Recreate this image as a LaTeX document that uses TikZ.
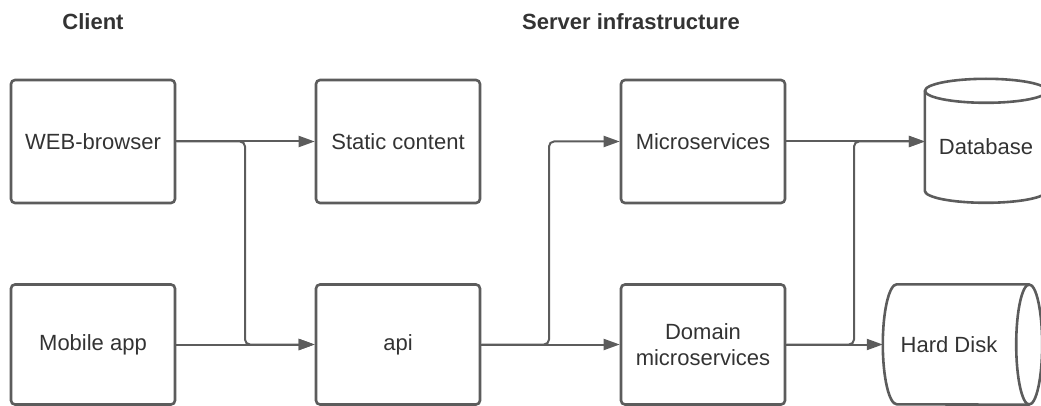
\documentclass[tikz,border=0pt]{standalone}
\usepackage{fontspec}
\setmainfont{Liberation Sans}
\usetikzlibrary{arrows.meta}
\definecolor{linegray}{RGB}{92,92,92}
\definecolor{textgray}{RGB}{51,51,51}

\begin{document}
\begin{tikzpicture}[x=1pt,y=1pt,>={Triangle[length=16pt,width=11pt]},
				font=\fontsize{22}{26}\selectfont,text=textgray,
				main node/.style={rectangle,rounded corners=4pt,draw=linegray,line width=2.6pt,
					minimum width=164pt,minimum height=123pt,align=center,inner sep=0pt},
				store node/.style={rectangle,inner sep=0pt},
				store line/.style={draw=linegray,line width=2.6pt},
				title/.style={font=\fontsize{22}{26}\selectfont\bfseries},
				link/.style={->,draw=linegray,line width=2pt,rounded corners=5pt}]
				
				\useasboundingbox (0,0) rectangle (1041,405);
				
				\node[title] (client) at (93,383) {Client};
				\node[title] (server) at (631,383) {Server infrastructure};
				
				\node[main node] (web) at (93,263.5) {WEB-browser};
				\node[main node,minimum height=120pt] (mobile) at (93,60.5) {Mobile app};
				\node[main node] (static) at (398,263.5) {Static content};
				\node[main node,minimum height=120pt] (api) at (398,60.5) {api};
				\node[main node] (micro) at (703,263.5) {Microservices};
				\node[main node,minimum height=120pt] (domain) at (703,60.5) {Domain\\microservices};
				
				% database, upright cylinder
				\node[store node,minimum width=122pt,minimum height=112pt] (db) at (986,258) {Database};
				\draw[store line] (db.north) ellipse [x radius=61, y radius=12];
				\draw[store line] (db.north west) -- ++(0,-100)
					arc [start angle=180, end angle=360, x radius=61, y radius=12] -- (db.north east);
				
				% hard disk, lying cylinder
				\node[store node,minimum width=132pt,minimum height=120pt] (disk) at (949,60.5) {Hard Disk};
				\draw[store line] ([xshift=14pt]disk.east) ellipse [x radius=13, y radius=60];
				\draw[store line] ([xshift=14pt]disk.north east) -- ([xshift=14pt]disk.north west)
					arc [start angle=90, end angle=270, x radius=14, y radius=60] -- ([xshift=14pt]disk.south east);
				
				% junction points
				\coordinate (j1) at (245,0);
				\coordinate (j2) at (549,0);
				\coordinate (j3) at (854,0);
				
				\draw[link] (web.east) -- (static.west);
				\draw[link] (web.east) -- (web.east -| j1) -- (j1 |- api.west) -- (api.west);
				\draw[link] (mobile.east) -- (api.west);
				\draw[link] (api.east) -- (domain.west);
				\draw[link] (api.east) -- (api.east -| j2) -- (j2 |- micro.west) -- (micro.west);
				\draw[link] (micro.east) -- (micro.east -| db.west);
				\draw[link] (domain.east) -- (disk.west);
				\draw[link] (domain.east) -- (domain.east -| j3) -- (j3 |- micro.east) -- (micro.east -| db.west);
\end{tikzpicture}
\end{document}
